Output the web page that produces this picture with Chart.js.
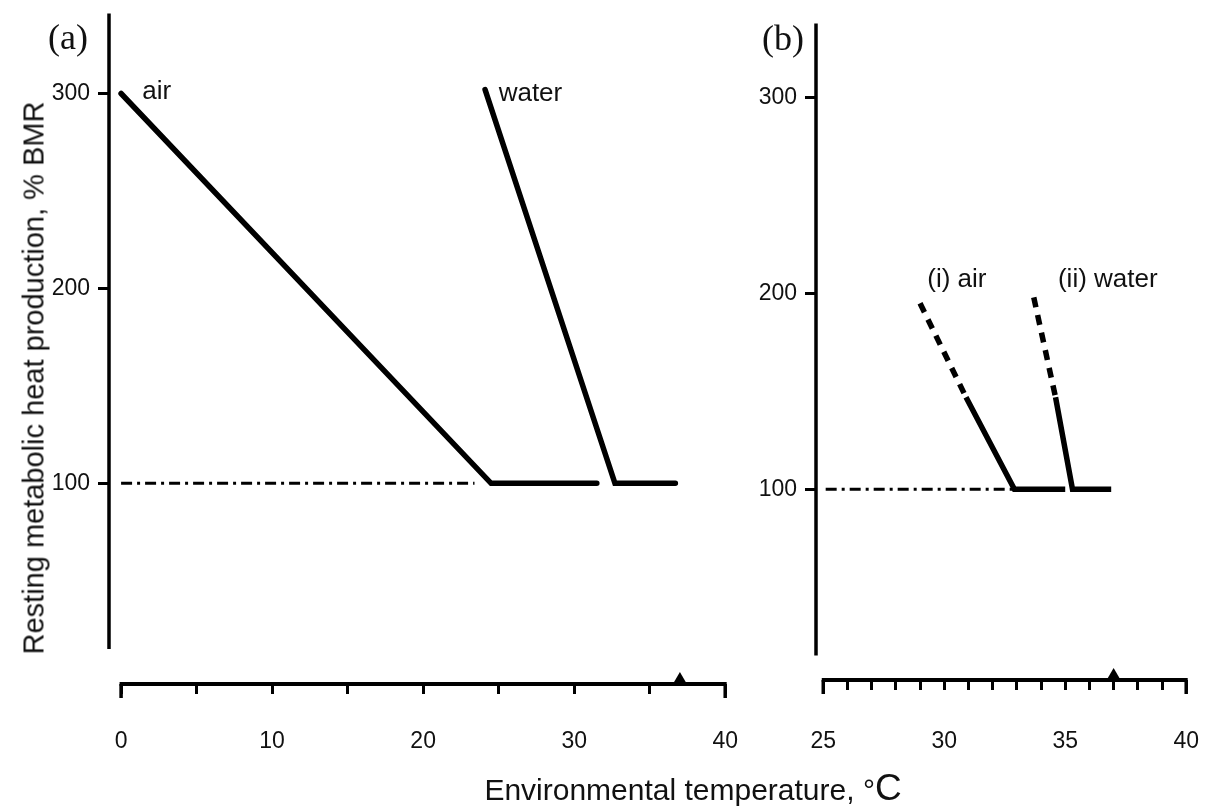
<!DOCTYPE html>
<html>
<head>
<meta charset="utf-8">
<script src="https://cdn.jsdelivr.net/npm/chart.js@4/dist/chart.umd.min.js"></script>
<style>
  html, body { margin: 0; padding: 0; background: #fff; width: 1211px; height: 811px; overflow: hidden; position: relative; }
  .wrap { position: absolute; }
  #wrapA { left: 0; top: -16px; width: 772px; height: 806px; }
  #wrapB { left: 700px; top: -12px; width: 537px; height: 802px; }
  .txt { position: absolute; font-family: "Liberation Sans", Arial, sans-serif; color: #111; white-space: nowrap; }
  .panel { font-family: "Liberation Serif", "DejaVu Serif", serif; font-size: 36px; }
  #ytitle { left: 34px; top: 378px; font-size: 29px; transform: translate(-50%, -50%) rotate(-90deg); }
  #xtitle { left: 693px; top: 788px; font-size: 30px; transform: translate(-50%, -50%); }
</style>
</head>
<body>
<div class="wrap" id="wrapA"><canvas id="chartA"></canvas></div>
<div class="wrap" id="wrapB"><canvas id="chartB"></canvas></div>
<div class="txt panel" style="left:48px; top:16px;">(a)</div>
<div class="txt panel" style="left:762px; top:17px;">(b)</div>
<div class="txt" id="ytitle">Resting metabolic heat production, % BMR</div>
<div class="txt" id="xtitle">Environmental temperature, °<span style="font-size:37px">C</span></div>
<script>
// panel (a): whole range 0-40 °C
const airAx = [0, 24.5, 31.5];
const airAy = [300, 100, 100];
const waterAx = [24.1, 32.7, 36.7];
const waterAy = [302, 100, 100];
const bmrAx = [0, 23.4];
const bmrAy = [100, 100];

// panel (b): 25-40 °C, first segment of each line dashed
const airBx = [29, 30.9, 32.9, 35];
const airBy = [195, 147, 100, 100];
const waterBx = [33.7, 34.6, 35.3, 36.9];
const waterBy = [198, 147, 100, 100];
const bmrBx = [25.1, 32.85];
const bmrBy = [100, 100];

const yTicks = [100, 200, 300];
const xTicksA = [0, 5, 10, 15, 20, 25, 30, 35, 40];
const xTicksB = [25, 26, 27, 28, 29, 30, 31, 32, 33, 34, 35, 36, 37, 38, 39, 40];
const bodyTemp = 37;

Chart.defaults.font.family = '"Liberation Sans", Arial, sans-serif';
Chart.defaults.font.size = 23;
Chart.defaults.color = '#111';

function pts(xs, ys) {
    return xs.map((x, i) => ({x: x, y: ys[i]}));
}

function solid(xs, ys) {
    return { data: pts(xs, ys), showLine: true, borderColor: '#000', borderWidth: 5.5,
             pointRadius: 0, borderCapStyle: 'round', borderJoinStyle: 'miter' };
}

function dashDot(xs, ys) {
    return { data: pts(xs, ys), showLine: true, borderColor: '#000', borderWidth: 3,
             pointRadius: 0, borderDash: [11, 5, 3, 5] };
}

function partDashed(xs, ys) {
    const ds = solid(xs, ys);
    ds.segment = { borderDash: ctx => ctx.p0DataIndex === 0 ? [10, 8] : [] };
    ds.borderCapStyle = 'butt';
    return ds;
}

// draws the detached axis lines, the 37 °C marker and the line labels
const extras = {
    id: 'extras',
    afterDraw(chart, args, opts) {
        const c = chart.ctx, xs = chart.scales.x, ys = chart.scales.y, a = chart.chartArea;
        const x0 = xs.getPixelForValue(opts.xFrom), x1 = xs.getPixelForValue(opts.xTo);
        c.save();
        c.strokeStyle = '#000';
        c.lineCap = 'butt';
        c.lineWidth = 4;
        c.beginPath();
        c.moveTo(x0 - 1.5, a.bottom);
        c.lineTo(x1 + 1.5, a.bottom);
        c.stroke();
        // longer end ticks
        c.lineWidth = 3.5;
        c.beginPath();
        c.moveTo(x0, a.bottom);
        c.lineTo(x0, a.bottom + 14);
        c.moveTo(x1, a.bottom);
        c.lineTo(x1, a.bottom + 14);
        c.stroke();
        c.beginPath();
        c.moveTo(a.left, ys.getPixelForValue(opts.yTop));
        c.lineTo(a.left, ys.getPixelForValue(opts.yBottom));
        c.stroke();
        const tx = xs.getPixelForValue(bodyTemp);
        c.fillStyle = '#000';
        c.beginPath();
        c.moveTo(tx - 7, a.bottom);
        c.lineTo(tx + 7, a.bottom);
        c.lineTo(tx, a.bottom - 12);
        c.closePath();
        c.fill();
        c.font = '26px "Liberation Sans", Arial, sans-serif';
        c.fillStyle = '#111';
        c.textAlign = 'left';
        c.textBaseline = 'middle';
        opts.labels.forEach(l => c.fillText(l.text, xs.getPixelForValue(l.x), ys.getPixelForValue(l.y)));
        c.restore();
    }
};

function makeChart(id, datasets, xMin, xMax, xTicks, labelEvery, yMin, yWidth, xHeight, labelPad, extraOpts) {
    return new Chart(document.getElementById(id), {
        type: 'scatter',
        data: { datasets: datasets },
        options: {
            responsive: true,
            maintainAspectRatio: false,
            animation: false,
            layout: { padding: 0 },
            plugins: { legend: { display: false }, tooltip: { enabled: false }, extras: extraOpts },
            scales: {
                x: {
                    type: 'linear', min: xMin, max: xMax,
                    afterBuildTicks: s => { s.ticks = xTicks.map(v => ({value: v})); },
                    afterFit: s => { s.height = xHeight; },
                    border: { display: false },
                    grid: { drawOnChartArea: false, drawTicks: true, tickLength: 10, tickWidth: 3, tickColor: '#000' },
                    ticks: { padding: labelPad, maxRotation: 0, autoSkip: false,
                             callback: v => (v % labelEvery === 0 ? String(v) : '') }
                },
                y: {
                    type: 'linear', min: yMin, max: 345,
                    afterBuildTicks: s => { s.ticks = yTicks.map(v => ({value: v})); },
                    afterFit: s => { s.width = yWidth; },
                    border: { display: false },
                    grid: { drawOnChartArea: false, drawTicks: true, tickLength: 11, tickWidth: 3, tickColor: '#000' },
                    ticks: { padding: 8 }
                }
            }
        },
        plugins: [extras]
    });
}

makeChart('chartA',
    [solid(airAx, airAy), solid(waterAx, waterAy), dashDot(bmrAx, bmrAy)],
    -0.8, 40, xTicksA, 10, -3, 109, 106, 34,
    { xFrom: 0, xTo: 40, yTop: 341, yBottom: 15,
      labels: [{text: 'air', x: 1.4, y: 301}, {text: 'water', x: 25, y: 300}] });

makeChart('chartB',
    [partDashed(airBx, airBy), partDashed(waterBx, waterBy), dashDot(bmrBx, bmrBy)],
    24.7, 40, xTicksB, 5, 2.5, 116, 110, 38,
    { xFrom: 25, xTo: 40, yTop: 338, yBottom: 15,
      labels: [{text: '(i) air', x: 29.3, y: 207}, {text: '(ii) water', x: 34.7, y: 207}] });
</script>
</body>
</html>
